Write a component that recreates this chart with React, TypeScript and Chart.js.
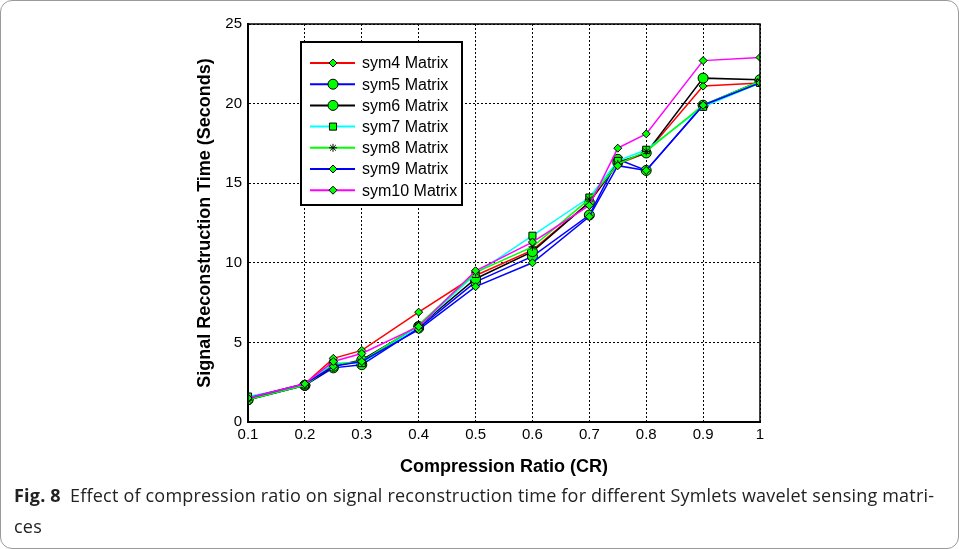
import React, { useEffect, useRef } from "react";
import { Chart, registerables } from "chart.js";
import * as helpers from "chart.js/helpers";

Chart.register(...registerables);

const crValues = [0.1, 0.2, 0.25, 0.3, 0.4, 0.5, 0.6, 0.7, 0.75, 0.8, 0.9, 1];
const xTicks = [0.1, 0.2, 0.3, 0.4, 0.5, 0.6, 0.7, 0.8, 0.9, 1];
const yTicks = [0, 5, 10, 15, 20, 25];

const sym4 = [1.5, 2.4, 4.0, 4.5, 6.9, 9.2, 10.8, 13.8, 16.2, 16.9, 21.1, 21.3];
const sym5 = [1.4, 2.3, 3.4, 3.6, 5.9, 8.8, 10.4, 13.0, 16.5, 15.8, 19.9, 21.4];
const sym6 = [1.4, 2.3, 3.5, 3.9, 6.0, 9.0, 10.7, 13.8, 16.3, 16.9, 21.6, 21.5];
const sym7 = [1.6, 2.3, 3.7, 3.7, 6.0, 9.3, 11.7, 14.1, 16.4, 17.1, 19.8, 21.3];
const sym8 = [1.4, 2.3, 3.6, 3.8, 6.1, 9.4, 11.0, 14.0, 16.2, 17.0, 19.9, 21.4];
const sym9 = [1.5, 2.4, 3.5, 3.8, 5.8, 8.5, 10.0, 12.9, 16.1, 15.8, 19.9, 21.3];
const sym10 = [1.5, 2.4, 3.8, 4.3, 6.0, 9.5, 11.3, 13.6, 17.2, 18.1, 22.7, 22.9];

const seriesLabels = ["sym4 Matrix", "sym5 Matrix", "sym6 Matrix", "sym7 Matrix", "sym8 Matrix", "sym9 Matrix", "sym10 Matrix"];
const seriesData = [sym4, sym5, sym6, sym7, sym8, sym9, sym10];
const seriesColors = ["#ff0000", "#0000ff", "#000000", "#00ffff", "#00ff00", "#0000ff", "#ff00ff"];
const seriesMarkers = ["rectRot", "circle", "circle", "rect", "star", "rectRot", "rectRot"];
const markerRadius = [4, 5, 5, 5, 4, 4, 4];

const FONT = "Arial, 'Liberation Sans', sans-serif";

const boxLegendPlugin = {
  id: "boxLegend",
  afterDraw(chart: any) {
    const ctx = chart.ctx;
    const area = chart.chartArea;
    ctx.save();
    ctx.strokeStyle = "#000";
    ctx.lineWidth = 1.5;
    ctx.strokeRect(area.left, area.top, area.right - area.left, area.bottom - area.top);
    const bx = 301, by = 42, bw = 161, bh = 163;
    ctx.fillStyle = "#fff";
    ctx.fillRect(bx, by, bw, bh);
    ctx.lineWidth = 2;
    ctx.strokeRect(bx, by, bw, bh);
    chart.data.datasets.forEach((ds: any, i: number) => {
      const y = 63 + i * 21.2;
      ctx.strokeStyle = ds.borderColor;
      ctx.lineWidth = 2;
      ctx.beginPath();
      ctx.moveTo(310, y);
      ctx.lineTo(355, y);
      ctx.stroke();
      ctx.fillStyle = ds.pointBackgroundColor;
      ctx.strokeStyle = ds.pointBorderColor;
      ctx.lineWidth = 1;
      helpers.drawPoint(ctx, { pointStyle: ds.pointStyle, radius: ds.pointRadius, rotation: 0, borderWidth: 1 }, 333, y);
      ctx.fillStyle = "#000";
      ctx.font = "16px " + FONT;
      ctx.textBaseline = "middle";
      ctx.textAlign = "left";
      ctx.fillText(ds.label, 362, y + 1);
    });
    ctx.restore();
  },
};

export default function App() {
  const ref = useRef<HTMLCanvasElement | null>(null);
  useEffect(() => {
    if (!ref.current) return;
    const datasets = seriesLabels.map((label, i) => ({
      label,
      data: crValues.map((x, j) => ({ x, y: seriesData[i][j] })),
      borderColor: seriesColors[i],
      backgroundColor: seriesColors[i],
      borderWidth: 1.5,
      pointStyle: seriesMarkers[i],
      pointRadius: markerRadius[i],
      pointBackgroundColor: "#00ff00",
      pointBorderColor: "#000000",
      pointBorderWidth: 1,
      order: seriesLabels.length - i,
      tension: 0,
    }));
    const chart = new Chart(ref.current, {
      type: "line",
      data: { datasets },
      options: {
        animation: false,
        responsive: false,
        maintainAspectRatio: false,
        layout: { padding: { left: 190, top: 24, right: 199, bottom: 67 } },
        plugins: { legend: { display: false }, tooltip: { enabled: false } },
        scales: {
          x: {
            type: "linear",
            min: 0.1,
            max: 1,
            afterBuildTicks: (scale: any) => {
              scale.ticks = xTicks.map((v) => ({ value: v }));
            },
            afterFit: (scale: any) => {
              scale.height = 60;
            },
            ticks: {
              color: "#000",
              font: { size: 15, family: FONT },
              padding: 4,
              callback: (v: any) => String(v),
            },
            grid: { color: "#000", lineWidth: 1, drawTicks: false },
            border: { color: "#000", width: 2, dash: [2, 2] },
            title: {
              display: true,
              text: "Compression Ratio (CR)",
              color: "#000",
              font: { size: 18, weight: "bold", family: FONT },
              padding: { top: 4, bottom: 4 },
            },
          },
          y: {
            min: 0,
            max: 25,
            afterBuildTicks: (scale: any) => {
              scale.ticks = yTicks.map((v) => ({ value: v }));
            },
            afterFit: (scale: any) => {
              scale.width = 58;
            },
            ticks: {
              color: "#000",
              font: { size: 15, family: FONT },
              padding: 6,
            },
            grid: { color: "#000", lineWidth: 1, drawTicks: false },
            border: { color: "#000", width: 2, dash: [2, 2] },
            title: {
              display: true,
              text: "Signal Reconstruction Time (Seconds)",
              color: "#000",
              font: { size: 18, weight: "bold", family: FONT },
              padding: { top: 4, bottom: 4 },
            },
          },
        },
      },
      plugins: [boxLegendPlugin],
    } as any);
    return () => chart.destroy();
  }, []);

  return (
    <div style={{ position: "fixed", left: 0, top: 0, width: 959, height: 549, background: "#fff", overflow: "hidden" }}>
      <canvas ref={ref} width={959} height={549} style={{ position: "absolute", left: 0, top: 0, width: 959, height: 549 }} />
      <div
        style={{
          position: "absolute",
          left: 0,
          top: 0,
          width: 957,
          height: 547,
          border: "1px solid #9a9a9a",
          borderRadius: 12,
          pointerEvents: "none",
        }}
      />
      <div
        style={{
          position: "absolute",
          left: 14,
          top: 480,
          width: 940,
          fontFamily: "'Open Sans', sans-serif",
          fontSize: 18,
          lineHeight: "31px",
          color: "#222",
          letterSpacing: 0.2,
          whiteSpace: "nowrap",
        }}
      >
        <span style={{ fontWeight: 700 }}>Fig. 8</span>
        {"\u2002Effect of compression ratio on signal reconstruction time for different Symlets wavelet sensing matri-"}
        <br />
        ces
      </div>
    </div>
  );
}
